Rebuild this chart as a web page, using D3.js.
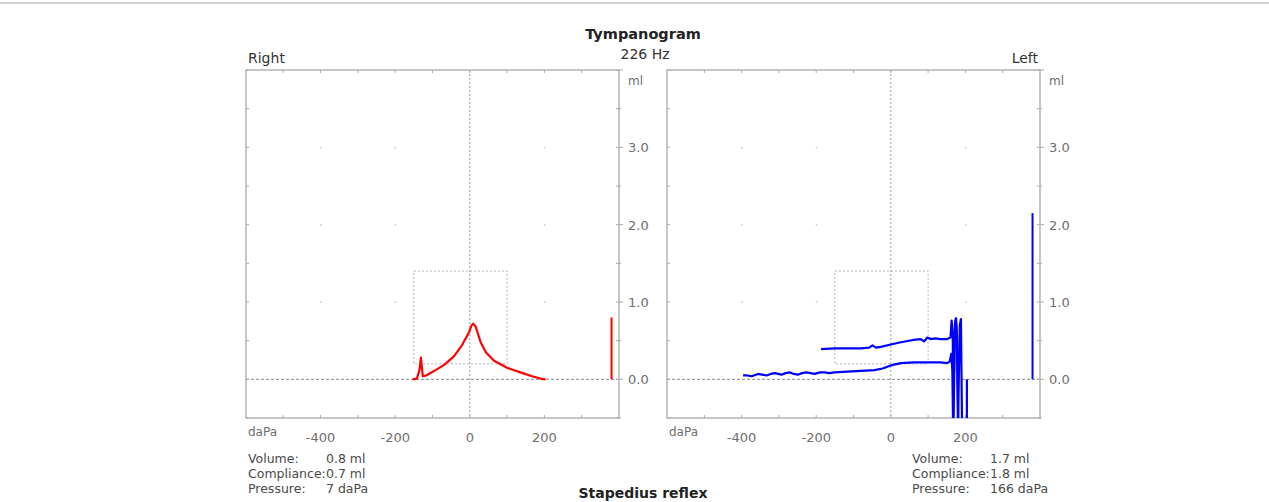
<!DOCTYPE html>
<html lang="en">
<head>
    <meta charset="UTF-8">
    <title>Tympanogram</title>
    <script src="https://cdnjs.cloudflare.com/ajax/libs/d3/7.8.5/d3.min.js"></script>
</head>

<style>
body { margin: 0; background: #fff; }
text { font-family: "DejaVu Sans", Verdana, sans-serif; }
.frame { fill: none; stroke: #b4b4b4; stroke-width: 1.5px; }
.tick-lbl { fill: #6e6e6e; font-size: 13px; }
.info { fill: #4a4a4a; font-size: 12.5px; }
</style>

<body>
<div id="output"></div>
<script>

    // axis ticks
    var xTicks = [-400, -200, 0, 200];
    var yTicks = [0, 1, 2, 3];

    // right ear (red)
    var rightPressure   = [-153, -142, -135, -131, -126, -117, -95, -68, -42, -20, -2, 5, 9, 16, 29, 43, 65, 100, 136, 167, 189, 203];
    var rightCompliance = [0.00, 0.01, 0.12, 0.28, 0.04, 0.05, 0.11, 0.19, 0.30, 0.45, 0.61, 0.70, 0.72, 0.68, 0.48, 0.35, 0.24, 0.15, 0.09, 0.04, 0.01, 0.00];

    // left ear (blue), two sweeps
    var leftLowPressure   = [-396, -385, -373, -356, -345, -333, -322, -311, -293, -282, -271, -260, -249, -238, -227, -215, -204, -190, -178, -165, -151, -116, -80, -44, -22, 0, 27, 62, 98, 133, 151, 158, 162, 165, 167, 171, 174, 177, 180, 185, 188, 191, 196, 204, 204];
    var leftLowCompliance = [0.05, 0.05, 0.04, 0.07, 0.06, 0.05, 0.07, 0.08, 0.06, 0.08, 0.09, 0.07, 0.06, 0.08, 0.09, 0.08, 0.07, 0.09, 0.09, 0.08, 0.09, 0.10, 0.11, 0.12, 0.14, 0.18, 0.21, 0.22, 0.22, 0.22, 0.21, 0.23, 0.33, 0.12, -0.6, 0.55, 0.78, 0.60, -0.6, 0.70, 0.78, -0.6, -0.6, -0.6, 0.0];
    var leftUpPressure    = [-187, -151, -116, -80, -58, -49, -40, -27, 0, 27, 62, 80, 89, 98, 108, 119, 133, 151, 160, 163, 166, 168, 172, 175, 178, 181];
    var leftUpCompliance  = [0.39, 0.40, 0.40, 0.40, 0.41, 0.44, 0.41, 0.42, 0.45, 0.48, 0.51, 0.52, 0.49, 0.54, 0.52, 0.53, 0.52, 0.52, 0.54, 0.76, 0.60, -0.6, 0.72, 0.79, 0.50, -0.6];

    // ear canal volume bars
    var barPressure = [380, 380];
    var barVolume   = [0.8, 2.15];

    // results
    var infoLabels  = ["Volume:", "Compliance:", "Pressure:"];
    var rightValues = ["0.8 ml", "0.7 ml", "7 daPa"];
    var leftValues  = ["1.7 ml", "1.8 ml", "166 daPa"];

    var W = 1269, H = 502;
    var pw = 373, ph = 348;

    var svg = d3.select("#output").append("svg")
        .attr("width", W)
        .attr("height", H);

    // top rule
    svg.append("rect")
        .attr("x", 0).attr("y", 2)
        .attr("width", W).attr("height", 2)
        .style("fill", "#d2d2d2");

    svg.append("text")
        .attr("x", 643).attr("y", 39)
        .attr("text-anchor", "middle")
        .style("font-weight", "bold")
        .style("font-size", "14.5px")
        .style("fill", "#222")
        .text("Tympanogram");

    svg.append("text")
        .attr("x", 645).attr("y", 59)
        .attr("text-anchor", "middle")
        .style("font-size", "14px")
        .style("fill", "#333")
        .text("226 Hz");

    svg.append("text")
        .attr("x", 643).attr("y", 498)
        .attr("text-anchor", "middle")
        .style("font-weight", "bold")
        .style("font-size", "14px")
        .style("fill", "#222")
        .text("Stapedius reflex");

    var x = d3.scaleLinear().domain([-600, 400]).range([0, pw]);
    var y = d3.scaleLinear().domain([-0.5, 4]).range([ph, 0]);

    var line = d3.line()
        .x(function(d) { return x(d[0]); })
        .y(function(d) { return y(d[1]); });

    function drawPanel(left, id, color, curves, barIdx, title, titleAnchor, values, infoX) {
        var g = svg.append("g").attr("transform", "translate(" + left + ",70)");

        g.append("clipPath").attr("id", id)
            .append("rect").attr("width", pw).attr("height", ph);

        // grid dots
        [-400, -200, 200].forEach(function(p) {
            [1, 2, 3].forEach(function(v) {
                g.append("rect")
                    .attr("x", x(p) - 0.5).attr("y", y(v) - 0.5)
                    .attr("width", 1.5).attr("height", 1.5)
                    .style("fill", "#c8c8c8");
            });
        });

        // pressure/compliance window
        g.append("rect")
            .attr("x", x(-150)).attr("y", y(1.4))
            .attr("width", x(100) - x(-150))
            .attr("height", y(0.2) - y(1.4))
            .style("fill", "none")
            .style("stroke", "#b0b0b0")
            .style("stroke-dasharray", "2,2");

        g.append("line")
            .attr("x1", x(0)).attr("x2", x(0))
            .attr("y1", 0).attr("y2", ph)
            .style("stroke", "#a0a0a0")
            .style("stroke-dasharray", "2,2");

        g.append("line")
            .attr("x1", 0).attr("x2", pw)
            .attr("y1", y(0)).attr("y2", y(0))
            .style("stroke", "#8a8a8a")
            .style("stroke-dasharray", "3,2");

        // ticks on top and bottom, every 100 daPa
        d3.range(-500, 400, 100).forEach(function(p) {
            g.append("line").attr("x1", x(p)).attr("x2", x(p)).attr("y1", 0).attr("y2", 3)
                .style("stroke", "#aaa");
            g.append("line").attr("x1", x(p)).attr("x2", x(p)).attr("y1", ph).attr("y2", ph - 3)
                .style("stroke", "#aaa");
        });

        // ticks on sides, every 0.5 ml
        d3.range(-0.5, 4.01, 0.5).forEach(function(v) {
            var major = Math.abs(v - Math.round(v)) < 0.01;
            g.append("line").attr("x1", 0).attr("x2", 3).attr("y1", y(v)).attr("y2", y(v))
                .style("stroke", "#aaa");
            g.append("line").attr("x1", pw - 3).attr("x2", pw + (major ? 4 : 2))
                .attr("y1", y(v)).attr("y2", y(v))
                .style("stroke", "#aaa");
        });

        g.append("rect").attr("class", "frame").attr("width", pw).attr("height", ph);

        g.selectAll(".ylbl").data(yTicks).enter().append("text")
            .attr("class", "tick-lbl")
            .attr("x", pw + 9)
            .attr("y", function(d) { return y(d) + 5; })
            .text(function(d) { return d3.format(".1f")(d); });

        g.append("text").attr("class", "tick-lbl")
            .attr("x", pw + 9).attr("y", 15)
            .style("font-size", "12px")
            .text("ml");

        g.selectAll(".xlbl").data(xTicks).enter().append("text")
            .attr("class", "tick-lbl")
            .attr("x", function(d) { return x(d); })
            .attr("y", ph + 24)
            .attr("text-anchor", "middle")
            .text(function(d) { return d; });

        g.append("text").attr("class", "tick-lbl")
            .attr("x", 2).attr("y", ph + 18)
            .style("font-size", "12px")
            .text("daPa");

        g.append("text")
            .attr("x", titleAnchor == "start" ? 2 : pw - 2)
            .attr("y", -7)
            .attr("text-anchor", titleAnchor)
            .style("font-size", "14px")
            .style("fill", "#333")
            .text(title);

        var plot = g.append("g").attr("clip-path", "url(#" + id + ")");

        curves.forEach(function(c) {
            plot.append("path")
                .datum(d3.zip(c[0], c[1]))
                .attr("fill", "none")
                .attr("stroke", color)
                .attr("stroke-width", 2.2)
                .attr("stroke-linejoin", "round")
                .attr("d", line);
        });

        plot.append("line")
            .attr("x1", x(barPressure[barIdx])).attr("x2", x(barPressure[barIdx]))
            .attr("y1", y(0)).attr("y2", y(barVolume[barIdx]))
            .attr("stroke", color)
            .attr("stroke-width", 2);

        // result block
        var info = svg.append("g").attr("transform", "translate(" + infoX + ",463)");
        infoLabels.forEach(function(lbl, i) {
            info.append("text").attr("class", "info")
                .attr("x", 0).attr("y", i * 15)
                .text(lbl);
            info.append("text").attr("class", "info")
                .attr("x", 78).attr("y", i * 15)
                .text(values[i]);
        });
    }

    drawPanel(246, "clipR", "#ff0000",
        [[rightPressure, rightCompliance]], 0,
        "Right", "start", rightValues, 248);

    drawPanel(667, "clipL", "#0000ff",
        [[leftLowPressure, leftLowCompliance], [leftUpPressure, leftUpCompliance]], 1,
        "Left", "end", leftValues, 912);

</script>
</body>
</html>
